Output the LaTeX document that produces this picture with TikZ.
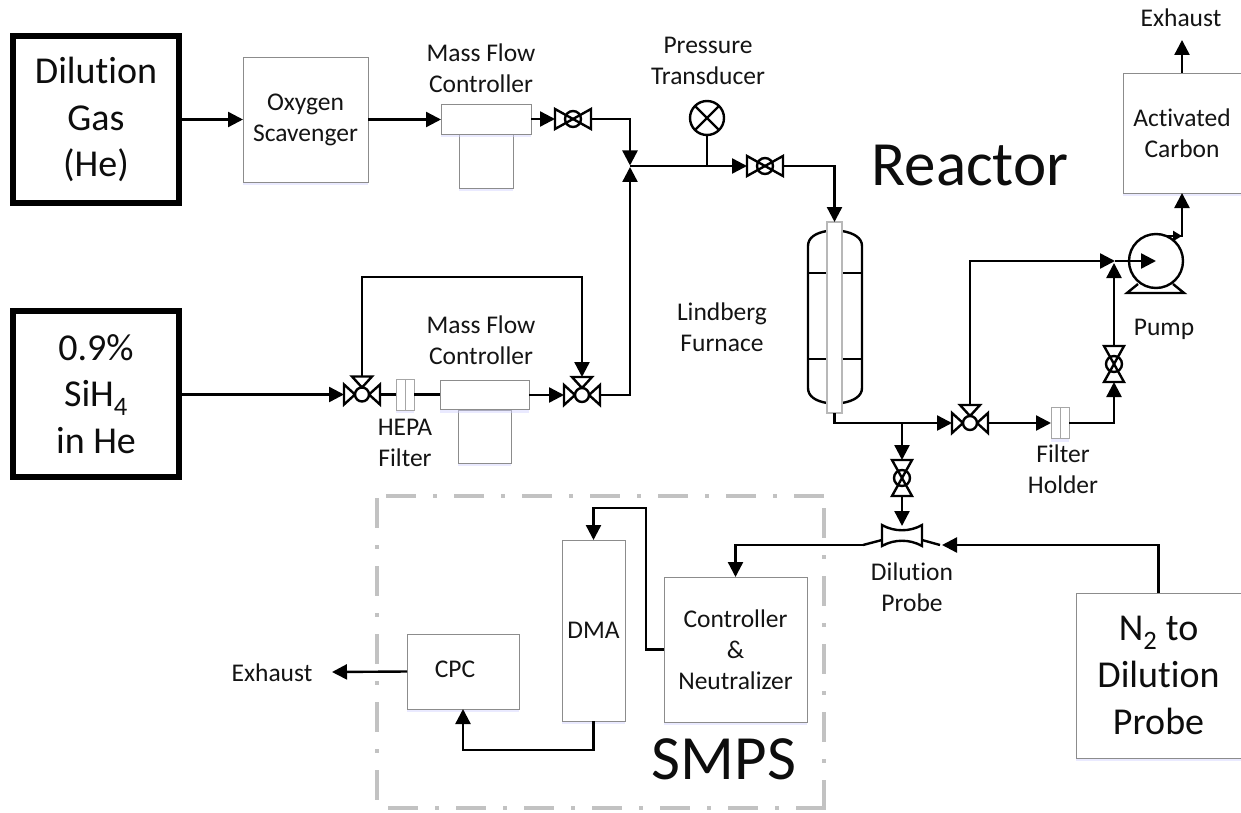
\documentclass[tikz,border=0pt]{standalone}
\usepackage{fontspec}
\setmainfont{Carlito}[Ligatures=NoCommon]
\usetikzlibrary{arrows.meta,shadows,calc}
\tikzset{
  x=1pt,y=-1pt,
  txt/.style={align=center,inner sep=0pt,text=black!92,font=\fontsize{25.5}{31}\selectfont},
  bigt/.style={align=center,inner sep=0pt,text=black!95,font=\fontsize{38}{46.7}\selectfont},
  huget/.style={inner sep=0pt,text=black!95,font=\fontsize{63}{70}\selectfont},
  softshadow/.style={general shadow={shadow xshift=0pt,shadow yshift=-3pt,fill=blue!18!white,opacity=.45}},
  unit/.style={draw=black!45,line width=.9pt,fill=white,inner sep=0pt,outer sep=0pt,softshadow},
  tank/.style={draw=black,line width=6pt,fill=white,inner sep=0pt,outer sep=3pt,softshadow},
  filterbox/.style={draw=black!35,line width=.9pt,fill=white,inner sep=0pt,outer sep=0pt,minimum width=18pt,minimum height=31pt,softshadow},
  tube/.style={draw=black!28,line width=1.6pt,fill=white,inner sep=0pt,outer sep=0pt,minimum width=15pt,minimum height=191pt},
  line/.style={draw=black,line width=2.4pt},
  flow/.style={line,-{Triangle[length=15pt,width=15pt]}},
  tinyflow/.style={line,-{Triangle[length=9pt,width=10pt]}},
  smpsedge/.style={draw=black!24,line width=3.4pt,dash pattern=on 30pt off 17pt on 4pt off 17pt},
  valvetwo/.pic={
    \draw[line,line join=miter] (-18,-10)--(18,10)--(18,-10)--(-18,10)--cycle;
    \draw[line] (0,0) circle (8);
    \coordinate (-w) at (-18,0);
    \coordinate (-e) at (18,0);
  },
  valvethree/.pic={
    \draw[line,line join=miter] (-18,-10)--(-7,0)--(-18,10)--cycle;
    \draw[line,line join=miter] (18,-10)--(7,0)--(18,10)--cycle;
    \draw[line,line join=miter] (-10,-18)--(0,-7)--(10,-18)--cycle;
    \draw[line,fill=white] (0,0) circle (7);
    \coordinate (-w) at (-18,0);
    \coordinate (-e) at (18,0);
    \coordinate (-n) at (0,-18);
  },
  venturi/.pic={
    \draw[line,line join=miter] (-20,-10) .. controls (-8,-3) and (8,-3) .. (20,-10)
       -- (20,11) .. controls (8,4) and (-8,4) .. (-20,11) -- cycle;
    \draw[line] (-39,10) -- (-20,5);
    \draw[line] (20,5) -- (38,10);
    \coordinate (-l) at (-39,10);
    \coordinate (-r) at (40,10);
    \coordinate (-t) at (0,-9);
  },
}
\begin{document}
\begin{tikzpicture}
\useasboundingbox (0,0) rectangle (1241,813);
\fill[white] (0,0) rectangle (1241,813);

% SMPS boundary
\coordinate (sa) at (386,496); \coordinate (sb) at (824,496);
\coordinate (sc) at (824,508); \coordinate (sd) at (824,806);
\coordinate (se) at (388,808); \coordinate (sf) at (826,808);
\coordinate (sg) at (377,498); \coordinate (sh) at (377,806);
\draw[smpsedge] (sa)--(sb);
\draw[smpsedge] (sc)--(sd);
\draw[smpsedge] (se)--(sf);
\draw[smpsedge] (sg)--(sh);

% sources
\node[tank,minimum width=166pt,minimum height=166pt,bigt] (dil) at (96,119.5) {Dilution\\Gas\\(He)};
\node[tank,minimum width=166pt,minimum height=166pt,bigt] (sih) at (96,394) {0.9\%\\SiH\textsubscript{4}\\in He};

% units
\node[unit,minimum width=125pt,minimum height=125pt,txt] (oxy) at (305.5,119.5) {Oxygen\\Scavenger};
\node[unit,minimum width=54pt,minimum height=54pt] (mfa2) at (486,161) {};
\node[unit,minimum width=90pt,minimum height=30pt] (mfa) at (486,119) {};
\node[unit,minimum width=53pt,minimum height=53pt] (mfb2) at (484.5,436.5) {};
\node[unit,minimum width=89pt,minimum height=29pt] (mfb) at (484.5,395) {};
\node[filterbox] (fa) at (405,394.5) {};
\draw[black!35,line width=.9pt] (fa.north) -- (fa.south);
\node[filterbox] (fb) at (1060,423) {};
\draw[black!35,line width=.9pt] (fb.north) -- (fb.south);
\node[unit,minimum width=118pt,minimum height=120pt,txt] (act) at (1182,133) {Activated\\Carbon};
\node[unit,minimum width=165pt,minimum height=165pt,bigt] (nit) at (1158.5,675.5) {N\textsubscript{2} to\\Dilution\\Probe};
\node[unit,minimum width=143pt,minimum height=145pt,txt] (ctl) at (735.5,649.5) {Controller\\\&\\Neutralizer};
\node[unit,minimum width=63pt,minimum height=181pt,txt] (dma) at (593.5,630.5) {DMA};
\node[unit,minimum width=112pt,minimum height=75pt] (cpc) at (463,671.5) {};
\node[txt] (cpct) at (455,669) {CPC};

% valves
\pic (va) at (573,119) {valvetwo};
\pic (vb) at (765,166) {valvetwo};
\pic (vc) at (362,394.5) {valvethree};
\pic (vd) at (582,395) {valvethree};
\pic (ve) at (970,423) {valvethree};
\pic[rotate=90] (vf) at (1114,364) {valvetwo};
\pic[rotate=90] (vg) at (902,478) {valvetwo};
\pic (pr) at (902,535) {venturi};

% transducer
\node[circle,draw=black,line width=2.4pt,minimum size=34pt,inner sep=0pt,outer sep=0pt] (pt) at (707,118) {};
\draw[line] (pt.45) -- (pt.225);
\draw[line] (pt.135) -- (pt.315);

% furnace
\coordinate (fta) at (827,231); \coordinate (ftb) at (808,246);
\coordinate (fbb) at (808,388); \coordinate (fba) at (827,403);
\coordinate (gta) at (842,231); \coordinate (gtb) at (862,246);
\coordinate (gbb) at (862,388); \coordinate (gba) at (842,403);
\draw[line] (fta) .. controls (815,233) and (808,238) .. (ftb) -- (fbb) .. controls (808,396) and (815,401) .. (fba);
\draw[line] (gta) .. controls (854,233) and (862,238) .. (gtb) -- (gbb) .. controls (862,396) and (854,401) .. (gba);
\coordinate (cla) at (808,273); \coordinate (clb) at (862,273);
\coordinate (cma) at (808,359); \coordinate (cmb) at (862,359);
\draw[line] (cla)--(clb);
\draw[line] (cma)--(cmb);
\node[tube] (tb) at (834.5,317.5) {};

% pump
\node[circle,draw=black,line width=2.4pt,minimum size=54pt,inner sep=0pt,outer sep=0pt] (pump) at (1156,261) {};
\coordinate (bl) at (1127,293); \coordinate (br) at (1184,293);
\coordinate (bla) at (1138,284); \coordinate (bra) at (1173,284);
\draw[line,line join=miter] (bla)--(bl)--(br)--(bra);

% junctions
\coordinate (ja) at (630,165.5);
\coordinate (jb) at (630,167);
\coordinate (jc) at (630,166);
\coordinate (jd) at (1115,261);
\coordinate (je) at (1114,263);
\coordinate (jf) at (902,423);
\coordinate (po) at (1165,236);
\coordinate (pp) at (1182,236);
\coordinate (ex) at (1182,40);
\coordinate (ey) at (332,672);

% connectors
\draw[flow] (dil.east) -- (oxy.west);
\draw[flow] (oxy.east) -- (oxy.east -| mfa.west);
\draw[flow] (mfa.east) -- (va-w);
\draw[flow] (va-e) -| (ja);
\draw[flow] (sih.east |- vc-w) -- (vc-w);
\draw[line] (vc-e) -- (fa.west);
\draw[line] (fa.east) -- (mfb.west |- fa.east);
\draw[flow] (mfb.east) -- (vd-w);
\draw[flow] (vd-e) -| (jb);
\draw[flow] (vc-n) |- (582,277) -- (vd-n);
\draw[flow] (jc) -- (vb-w);
\draw[line] (pt.south) -- (pt.south |- jc);
\draw[flow] (vb-e) -| (tb.north);
\draw[flow] (tb.south) |- (ve-w);
\draw[flow] (ve-e) -- (fb.west);
\draw[flow] (fb.east) -| (vf-w);
\draw[flow] (vf-e) -- (je);
\draw[flow] (ve-n) |- (jd);
\draw[flow] (jd) -- (pump.center);
\draw[flow] (po) -| (act.south);
\draw[tinyflow] (po) -- (pp);
\draw[flow] (act.north) -- (ex);
\draw[flow] (jf) -- (vg-e);
\draw[flow] (vg-w) -- (pr-t);
\draw[flow] (pr-l) -| (ctl.north);
\draw[flow] (nit.north) |- (pr-r);
\draw[flow] (ctl.west) -| (646,508) -| (dma.north);
\draw[flow] (dma.south) |- (463,750) -- (cpc.south);
\draw[flow] (cpc.west) -- (ey);

% labels
\node[txt] (la) at (481,68.5) {Mass Flow\\Controller};
\node[txt] (lb) at (481,340.5) {Mass Flow\\Controller};
\node[txt] (lc) at (708,61) {Pressure\\Transducer};
\node[txt] (ld) at (405,442.5) {HEPA\\Filter};
\node[txt] (le) at (722,327.5) {Lindberg\\Furnace};
\node[txt] (lf) at (1063,469.5) {Filter\\Holder};
\node[txt] (lg) at (1164,329) {Pump};
\node[txt] (lh) at (912,587.5) {Dilution\\Probe};
\node[txt] (li) at (1181,18) {Exhaust};
\node[txt] (lj) at (272,673) {Exhaust};
\node[huget] (lk) at (970,166) {Reactor};
\node[huget] (ll) at (724,759) {SMPS};
\end{tikzpicture}
\end{document}
